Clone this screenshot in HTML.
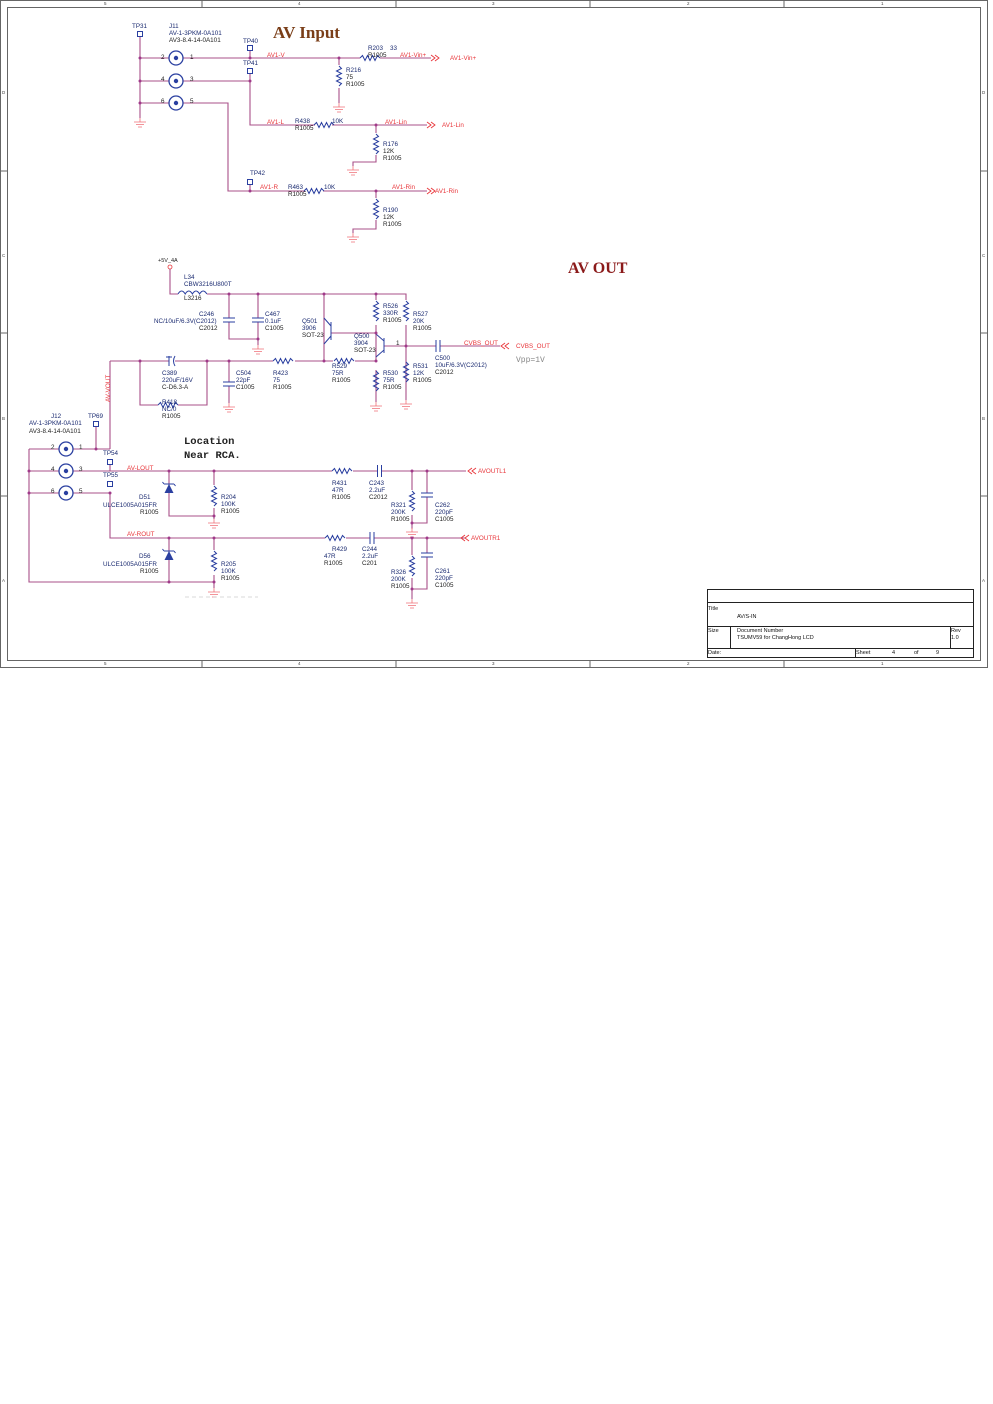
<!DOCTYPE html>
<html><head><meta charset="utf-8"><style>
html,body{margin:0;padding:0;background:#fff;}
svg{display:block;font-family:"Liberation Sans",sans-serif;}
.w{stroke:#a85088;stroke-width:1.1;fill:none}
.c{stroke:#2a3fa0;stroke-width:1;fill:none}
.g{stroke:#f07078;stroke-width:0.8;fill:none}
.t{font-size:6.3px;fill:#1a2a70}
.k{font-size:6.3px;fill:#222}
.r{font-size:6.3px;fill:#e8353a}
.f{stroke:#666;stroke-width:1;fill:none}
.n{font-size:4.5px;fill:#444}
</style></head><body>
<svg width="993" height="1404" viewBox="0 0 993 1404" xmlns="http://www.w3.org/2000/svg">
<defs>
<path id="rh" d="M0 0 l2.5 -2.5 l2.5 5 l2.5 -5 l2.5 5 l2.5 -5 l2.5 5 l2.5 -5 l2.5 2.5" class="c"/>
<path id="rv" d="M0 0 l2.5 2.5 l-5 2.5 l5 2.5 l-5 2.5 l5 2.5 l-5 2.5 l5 2.5 l-2.5 2.5" class="c"/>
<g id="gnd"><path d="M0 0 v4 M-6 4 h12 M-4 6.5 h8 M-2 9 h4" class="g"/></g>
<g id="tp"><rect x="-2.5" y="-2.5" width="5" height="5" fill="none" stroke="#2a3fa0" stroke-width="1"/></g>
<g id="rca"><circle r="7" fill="none" stroke="#2a3fa0" stroke-width="1.3"/><circle r="2.2" fill="#2a3fa0"/></g>
<g id="ch"><path d="M-2 -6 v12 M2 -6 v12" class="c"/></g>
<g id="cv"><path d="M-6 -2 h12 M-6 2 h12" class="c"/></g>
<g id="arr"><path d="M0 -3 l-4 3 l4 3 M4 -3 l-4 3 l4 3" stroke="#e8353a" fill="none" stroke-width="0.9"/></g>
<g id="arl"><path d="M0 -3 l4 3 l-4 3 M-4 -3 l4 3 l-4 3" stroke="#e8353a" fill="none" stroke-width="0.9"/></g>
</defs>

<rect x="0.5" y="0.5" width="987" height="667" class="f"/>
<rect x="7.5" y="7.5" width="973" height="653" class="f"/>
<path d="M202 0v7M396 0v7M590 0v7M784 0v7M202 660v7M396 660v7M590 660v7M784 660v7M0 171h7M0 333h7M0 496h7M980 171h7M980 333h7M980 496h7" class="f"/>
<g class="n"><text x="104" y="5">5</text><text x="298" y="5">4</text><text x="492" y="5">3</text><text x="687" y="5">2</text><text x="881" y="5">1</text>
<text x="104" y="665">5</text><text x="298" y="665">4</text><text x="492" y="665">3</text><text x="687" y="665">2</text><text x="881" y="665">1</text>
<text x="2" y="94">D</text><text x="2" y="257">C</text><text x="2" y="420">B</text><text x="2" y="582">A</text>
<text x="982" y="94">D</text><text x="982" y="257">C</text><text x="982" y="420">B</text><text x="982" y="582">A</text></g>

<text x="273" y="38" font-family="Liberation Serif,serif" font-weight="bold" font-size="17" fill="#7a3e18">AV Input</text>
<use href="#tp" x="140" y="34"/>
<path d="M140 37V118M140 58H169M140 81H169M140 103H169M183 58H360M380 58H431M183 81H250M250 74V125H315M332 125H427M183 103H228V191H305M323 191H427M250 51V58M250 185V191M339 58V65M339 88V103M376 125V133M376 155V162H353V166M376 191V198M376 220V229H353V233" class="w"/>
<use href="#gnd" x="140" y="118"/><use href="#gnd" x="339" y="103"/><use href="#gnd" x="353" y="166"/><use href="#gnd" x="353" y="233"/>
<use href="#rca" x="176" y="58"/><use href="#rca" x="176" y="81"/><use href="#rca" x="176" y="103"/>
<use href="#tp" x="250" y="48"/><use href="#tp" x="250" y="71"/><use href="#tp" x="250" y="182"/>
<use href="#rh" x="360" y="58"/><use href="#rv" x="339" y="66"/><use href="#rh" x="314" y="125"/><use href="#rv" x="376" y="134"/><use href="#rh" x="304" y="191"/><use href="#rv" x="376" y="199"/>
<use href="#arl" x="435" y="58"/><use href="#arl" x="431" y="125"/><use href="#arl" x="431" y="191"/>
<g fill="#a03a8a"><circle cx="140" cy="58" r="1.5"/><circle cx="140" cy="81" r="1.5"/><circle cx="140" cy="103" r="1.5"/><circle cx="250" cy="58" r="1.5"/><circle cx="250" cy="81" r="1.5"/><circle cx="250" cy="191" r="1.5"/><circle cx="339" cy="58" r="1.5"/><circle cx="376" cy="125" r="1.5"/><circle cx="376" cy="191" r="1.5"/></g>
<g class="t"><text x="132" y="28">TP31</text><text x="169" y="28">J11</text><text x="169" y="35">AV-1-3PKM-0A101</text><text x="243" y="43">TP40</text><text x="243" y="65">TP41</text>
<text x="368" y="50">R203</text><text x="390" y="50">33</text><text x="346" y="72">R216</text><text x="295" y="123">R438</text><text x="332" y="123">10K</text><text x="383" y="146">R176</text><text x="250" y="175">TP42</text><text x="288" y="189">R463</text><text x="324" y="189">10K</text><text x="383" y="212">R190</text></g>
<g class="k"><text x="169" y="42">AV3-8.4-14-0A101</text><text x="161" y="59">2</text><text x="190" y="59">1</text><text x="161" y="81">4</text><text x="190" y="81">3</text><text x="161" y="103">6</text><text x="190" y="103">5</text>
<text x="368" y="57">R1005</text><text x="346" y="79">75</text><text x="346" y="86">R1005</text><text x="295" y="130">R1005</text><text x="383" y="153">12K</text><text x="383" y="160">R1005</text><text x="288" y="196">R1005</text><text x="383" y="219">12K</text><text x="383" y="226">R1005</text></g>
<g class="r"><text x="267" y="57">AV1-V</text><text x="400" y="57">AV1-Vin+</text><text x="450" y="60">AV1-Vin+</text><text x="267" y="124">AV1-L</text><text x="385" y="124">AV1-Lin</text><text x="442" y="127">AV1-Lin</text><text x="260" y="189">AV1-R</text><text x="392" y="189">AV1-Rin</text><text x="435" y="193">AV1-Rin</text></g>

<text x="568" y="273" font-family="Liberation Serif,serif" font-weight="bold" font-size="16" fill="#8b1a1a">AV OUT</text>
<circle cx="170" cy="267" r="2" fill="none" stroke="#e8353a" stroke-width="0.8"/>
<path d="M170 269V294H178M207 294H406V300M406 325V385M229 294V318M229 322V339H258M258 294V318M258 322V345M324 294V361M376 294V300M376 325V361M376 370V395M376 395V402M406 385V400M384 346H436M440 346H500M110 361H169M175 361H273M295 361H333M355 361H376M140 361V405H158M178 405H207V361M229 361V382M229 386V403M331 333H376M110 361V449" class="w"/>
<path d="M178 294 q3.6 -6 7.2 0 q3.6 -6 7.2 0 q3.6 -6 7.2 0 q3.6 -6 7.2 0" class="c"/>
<use href="#cv" x="229" y="320"/><use href="#cv" x="258" y="320"/><use href="#cv" x="229" y="384"/>
<path d="M166 357h6 M175 356 q-3 5 0 10" class="c"/><path d="M169 356v10" class="c"/>
<use href="#ch" x="438" y="346"/>
<use href="#rv" x="376" y="301"/><use href="#rv" x="406" y="301"/><use href="#rv" x="376" y="371"/><use href="#rv" x="406" y="362"/>
<use href="#rh" x="273" y="361"/><use href="#rh" x="334" y="361"/><use href="#rh" x="158" y="405"/>
<path d="M331 322V340M331 326L324 318M331 336L324 344M384 338V353M384 341L376 334M384 350L376 357" class="c"/>
<use href="#gnd" x="258" y="345"/><use href="#gnd" x="229" y="403"/><use href="#gnd" x="376" y="402"/><use href="#gnd" x="406" y="400"/>
<use href="#arr" x="505" y="346"/>
<g fill="#a03a8a"><circle cx="229" cy="294" r="1.5"/><circle cx="258" cy="294" r="1.5"/><circle cx="324" cy="294" r="1.5"/><circle cx="376" cy="294" r="1.5"/><circle cx="258" cy="339" r="1.5"/><circle cx="376" cy="333" r="1.5"/><circle cx="406" cy="346" r="1.5"/><circle cx="140" cy="361" r="1.5"/><circle cx="207" cy="361" r="1.5"/><circle cx="229" cy="361" r="1.5"/><circle cx="324" cy="361" r="1.5"/><circle cx="376" cy="361" r="1.5"/></g>
<g class="k"><text x="158" y="262" font-size="5.5">+5V_4A</text><text x="184" y="300">L3216</text><text x="199" y="330">C2012</text><text x="265" y="330">C1005</text><text x="302" y="337">SOT-23</text><text x="383" y="322">R1005</text><text x="413" y="330">R1005</text><text x="354" y="352">SOT-23</text><text x="396" y="345">1</text><text x="435" y="374">C2012</text><text x="162" y="389">C-D6.3-A</text><text x="236" y="389">C1005</text><text x="273" y="389">R1005</text><text x="332" y="382">R1005</text><text x="383" y="389">R1005</text><text x="413" y="382">R1005</text><text x="162" y="418">R1005</text></g>
<g class="t"><text x="184" y="279">L34</text><text x="184" y="286">CBW3216U800T</text><text x="199" y="316">C246</text><text x="154" y="323">NC/10uF/6.3V(C2012)</text><text x="265" y="316">C467</text><text x="265" y="323">0.1uF</text><text x="302" y="323">Q501</text><text x="302" y="330">3906</text>
<text x="383" y="308">R526</text><text x="383" y="315">330R</text><text x="413" y="316">R527</text><text x="413" y="323">20K</text><text x="354" y="338">Q500</text><text x="354" y="345">3904</text><text x="435" y="360">C500</text><text x="435" y="367">10uF/6.3V(C2012)</text>
<text x="162" y="375">C389</text><text x="162" y="382">220uF/16V</text><text x="236" y="375">C504</text><text x="236" y="382">22pF</text><text x="273" y="375">R423</text><text x="273" y="382">75</text><text x="332" y="368">R529</text><text x="332" y="375">75R</text><text x="383" y="375">R530</text><text x="383" y="382">75R</text><text x="413" y="368">R531</text><text x="413" y="375">12K</text><text x="162" y="404">R418</text><text x="162" y="411">NC/0</text></g>
<g class="r"><text x="464" y="345">CVBS_OUT</text><text x="516" y="348">CVBS_OUT</text><text transform="translate(110,402) rotate(-90)">AV-VOUT</text></g>
<text x="516" y="362" font-family="Liberation Mono,monospace" font-size="8" fill="#888">Vpp=1V</text>

<text x="184" y="444" font-family="Liberation Mono,monospace" font-size="10.5" font-weight="bold" fill="#222">Location</text>
<text x="184" y="458" font-family="Liberation Mono,monospace" font-size="10.5" font-weight="bold" fill="#222">Near RCA.</text>
<path d="M29 449H59M73 449H110M96 427V449M29 449V582H214M29 471H59M73 471H332M353 471H377M382 471H427M29 493H59M73 493H110V538H325M346 538H370M374 538H465M110 465V471M169 471V516H214M214 471V485M214 508V519M169 538V582M214 538V550M214 575V588M412 471V490M412 515V523H427V497M427 471V493M412 538V555M412 578V589H427V557M427 538V553M412 523V529M412 589V599" class="w"/>
<path d="M427 471H466M427 538H460" class="w"/>
<use href="#rca" x="66" y="449"/><use href="#rca" x="66" y="471"/><use href="#rca" x="66" y="493"/>
<use href="#tp" x="96" y="424"/><use href="#tp" x="110" y="462"/><use href="#tp" x="110" y="484"/>
<path d="M169 484l-4.5 9h9z" fill="#2a3fa0"/><path d="M164 484h10M164 484l-1.5 -2M174 484l1.5 2" class="c"/>
<path d="M169 551l-4.5 9h9z" fill="#2a3fa0"/><path d="M164 551h10M164 551l-1.5 -2M174 551l1.5 2" class="c"/>
<use href="#rv" x="214" y="486"/><use href="#rv" x="214" y="551"/><use href="#rv" x="412" y="491"/><use href="#rv" x="412" y="556"/>
<use href="#rh" x="332" y="471"/><use href="#rh" x="325" y="538"/>
<use href="#ch" x="379.5" y="471"/><use href="#ch" x="372" y="538"/><use href="#cv" x="427" y="495"/><use href="#cv" x="427" y="555"/>
<use href="#gnd" x="214" y="519"/><use href="#gnd" x="214" y="588"/><use href="#gnd" x="412" y="528"/><use href="#gnd" x="412" y="599"/>
<use href="#arr" x="472" y="471"/><use href="#arr" x="465" y="538"/>
<path d="M185 597h73" stroke="#ccc" stroke-width="0.8" stroke-dasharray="4 3"/>
<g fill="#a03a8a"><circle cx="96" cy="449" r="1.5"/><circle cx="29" cy="471" r="1.5"/><circle cx="29" cy="493" r="1.5"/><circle cx="110" cy="493" r="1.5"/><circle cx="169" cy="471" r="1.5"/><circle cx="214" cy="471" r="1.5"/><circle cx="214" cy="516" r="1.5"/><circle cx="412" cy="471" r="1.5"/><circle cx="427" cy="471" r="1.5"/><circle cx="412" cy="523" r="1.5"/><circle cx="169" cy="538" r="1.5"/><circle cx="214" cy="538" r="1.5"/><circle cx="169" cy="582" r="1.5"/><circle cx="214" cy="582" r="1.5"/><circle cx="412" cy="538" r="1.5"/><circle cx="427" cy="538" r="1.5"/><circle cx="412" cy="589" r="1.5"/></g>
<g class="t"><text x="51" y="418">J12</text><text x="29" y="425">AV-1-3PKM-0A101</text><text x="88" y="418">TP69</text><text x="103" y="455">TP54</text><text x="103" y="477">TP55</text><text x="139" y="499">D51</text><text x="103" y="507">ULCE1005A015FR</text><text x="221" y="499">R204</text><text x="221" y="506">100K</text>
<text x="332" y="485">R431</text><text x="332" y="492">47R</text><text x="369" y="485">C243</text><text x="369" y="492">2.2uF</text><text x="391" y="507">R321</text><text x="391" y="514">200K</text><text x="435" y="507">C262</text><text x="435" y="514">220pF</text>
<text x="139" y="558">D56</text><text x="103" y="566">ULCE1005A015FR</text><text x="221" y="566">R205</text><text x="221" y="573">100K</text><text x="332" y="551">R429</text><text x="324" y="558">47R</text><text x="362" y="551">C244</text><text x="362" y="558">2.2uF</text><text x="391" y="574">R326</text><text x="391" y="581">200K</text><text x="435" y="573">C261</text><text x="435" y="580">220pF</text></g>
<g class="k"><text x="29" y="433">AV3-8.4-14-0A101</text><text x="51" y="449">2</text><text x="79" y="449">1</text><text x="51" y="471">4</text><text x="79" y="471">3</text><text x="51" y="493">6</text><text x="79" y="493">5</text><text x="140" y="514">R1005</text><text x="221" y="513">R1005</text><text x="332" y="499">R1005</text><text x="369" y="499">C2012</text><text x="391" y="521">R1005</text><text x="435" y="521">C1005</text>
<text x="140" y="573">R1005</text><text x="221" y="580">R1005</text><text x="324" y="565">R1005</text><text x="362" y="565">C201</text><text x="391" y="588">R1005</text><text x="435" y="587">C1005</text></g>
<g class="r"><text x="127" y="470">AV-LOUT</text><text x="127" y="536">AV-ROUT</text><text x="478" y="473">AVOUTL1</text><text x="471" y="540">AVOUTR1</text></g>

<rect x="707.5" y="589.5" width="266" height="68" fill="none" stroke="#222" stroke-width="1"/>
<path d="M707 602.5H973M707 626.5H973M707 648.5H973M730.5 626V648M950.5 626V648M855.5 648V657" stroke="#222" stroke-width="1" fill="none"/>
<g font-size="5.5" fill="#111"><text x="708" y="610">Title</text><text x="737" y="618">AV/S-IN</text><text x="708" y="632">Size</text><text x="737" y="632">Document Number</text><text x="737" y="639">TSUMV59 for ChangHong LCD</text><text x="951" y="632">Rev</text><text x="951" y="639">1.0</text><text x="708" y="654">Date:</text><text x="856" y="654">Sheet</text><text x="892" y="654">4</text><text x="914" y="654">of</text><text x="936" y="654">9</text></g>
</svg>
</body></html>
